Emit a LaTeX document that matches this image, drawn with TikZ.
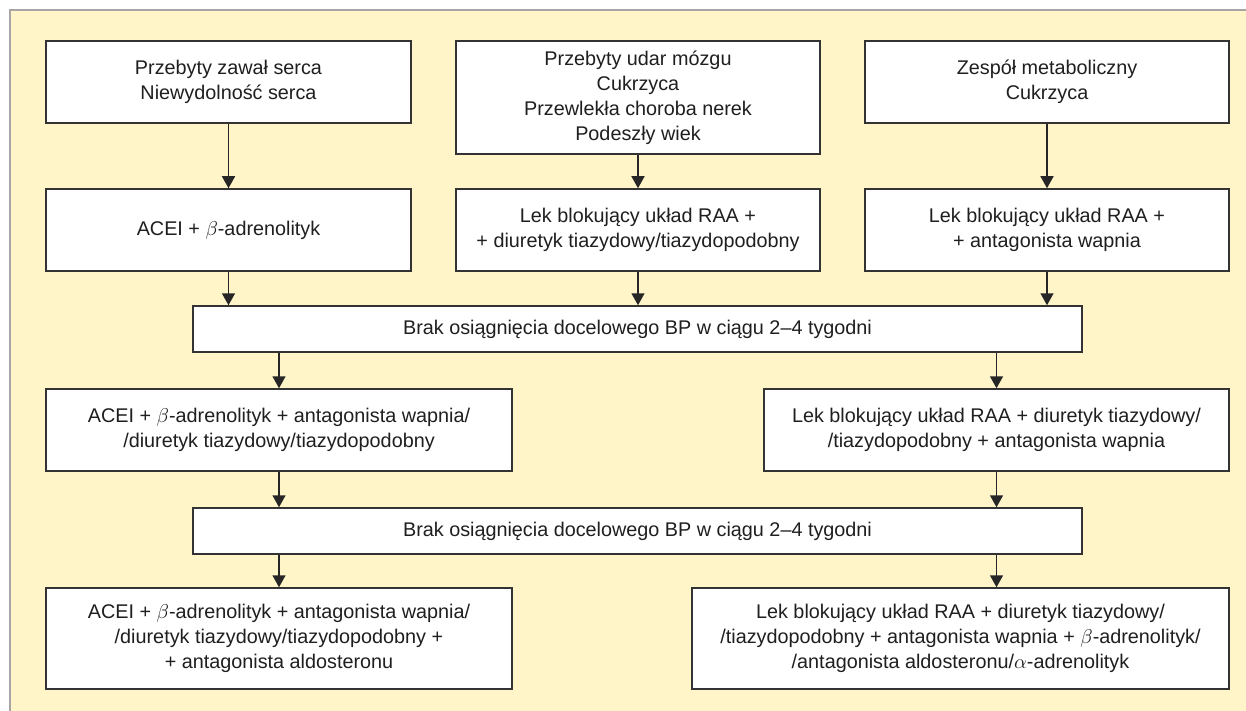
\documentclass[tikz,border=0pt]{standalone}
\usepackage{fontspec}
\setmainfont{Liberation Sans}
\usetikzlibrary{arrows.meta}
\definecolor{panel}{HTML}{FFF5C8}
\definecolor{edge}{HTML}{333333}
\tikzset{
    box/.style={draw=edge, line width=0.75pt, fill=white, align=center, inner sep=0pt,
        font=\fontsize{9.9pt}{12.5pt}\selectfont, text=black!88},
    arr/.style={draw=black!85, line width=0.75pt, -{Triangle[width=6.5pt,length=6pt]}},
}
\begin{document}
\begin{tikzpicture}[x=0.5pt,y=-0.5pt]
            \useasboundingbox (0,0) rectangle (1246,711);
            \fill[panel] (10,10) rectangle (1246,711);
            \draw[black!35, line width=0.6pt] (1246,10) -- (10,10) -- (10,711);

            \node[box, minimum width=182.5pt, minimum height=41pt] (zawal) at (228.5,82) {Przebyty zawał serca\\Niewydolność serca};
            \node[box, minimum width=182pt, minimum height=56.5pt] (udar) at (638,97.5) {Przebyty udar mózgu\\Cukrzyca\\Przewlekła choroba nerek\\Podeszły wiek};
            \node[box, minimum width=182pt, minimum height=41pt] (metab) at (1047,82) {Zespół metaboliczny\\Cukrzyca};

            \node[box, minimum width=182.5pt, minimum height=41pt] (acei) at (228.5,230) {ACEI + $\beta$-adrenolityk};
            \node[box, minimum width=182pt, minimum height=41pt] (raad) at (638,230) {Lek blokujący układ RAA +\\+ diuretyk tiazydowy/tiazydopodobny};
            \node[box, minimum width=182pt, minimum height=41pt] (raaw) at (1047,230) {Lek blokujący układ RAA +\\+ antagonista wapnia};

            \node[box, minimum width=444.5pt, minimum height=23pt] (brak1) at (637.5,329) {Brak osiągnięcia docelowego BP w ciągu 2--4 tygodni};

            \node[box, minimum width=233pt, minimum height=41pt] (trojka1) at (279,430) {ACEI + $\beta$-adrenolityk + antagonista wapnia/\\/diuretyk tiazydowy/tiazydopodobny};
            \node[box, minimum width=232.5pt, minimum height=41pt] (trojka2) at (996.5,430) {Lek blokujący układ RAA + diuretyk tiazydowy/\\/tiazydopodobny + antagonista wapnia};

            \node[box, minimum width=444.5pt, minimum height=23pt] (brak2) at (637.5,531) {Brak osiągnięcia docelowego BP w ciągu 2--4 tygodni};

            \node[box, minimum width=233pt, minimum height=50.5pt] (czworka1) at (279,638.5) {ACEI + $\beta$-adrenolityk + antagonista wapnia/\\/diuretyk tiazydowy/tiazydopodobny +\\+ antagonista aldosteronu};
            \node[box, minimum width=268.5pt, minimum height=50.5pt] (czworka2) at (960.5,638.5) {Lek blokujący układ RAA + diuretyk tiazydowy/\\/tiazydopodobny + antagonista wapnia + $\beta$-adrenolityk/\\/antagonista aldosteronu/$\alpha$-adrenolityk};

            \draw[arr] (zawal) -- (acei);
            \draw[arr] (udar) -- (raad);
            \draw[arr] (metab) -- (raaw);
            \foreach \n in {acei,raad,raaw} {
                    \draw[arr] (\n.south) -- (\n.south |- brak1.north);
                }
            \foreach \n in {trojka1,trojka2} {
                    \draw[arr] (\n.north |- brak1.south) -- (\n.north);
                    \draw[arr] (\n.south) -- (\n.south |- brak2.north);
                }
            \draw[arr] (trojka1 |- brak2.south) -- (trojka1 |- czworka1.north);
            \draw[arr] (trojka2 |- brak2.south) -- (trojka2 |- czworka2.north);
        \end{tikzpicture}
\end{document}
